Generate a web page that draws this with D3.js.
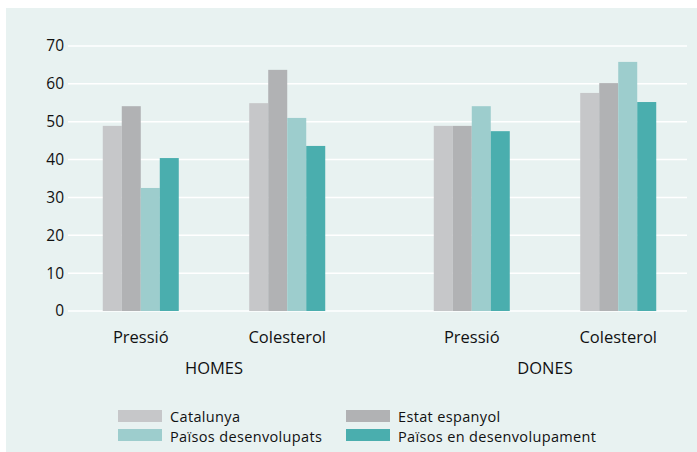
<!DOCTYPE html>
<meta charset="utf-8">
<style>
  body { margin: 0; background: #fff; }
  text { font-family: "Open Sans", sans-serif; fill: #111; }
</style>
<body>
<div id="chart"></div>
<script src="https://d3js.org/d3.v7.min.js"></script>
<script>
var sexes = ["HOMES", "DONES"];
var measures = ["Pressió", "Colesterol"];
var series = ["Catalunya", "Estat espanyol", "Països desenvolupats", "Països en desenvolupament"];
var colors = ["#c6c7c9", "#b1b2b4", "#9dcdcd", "#4aaeae"];
var yTicks = [0, 10, 20, 30, 40, 50, 60, 70];

// values per series, order: HOMES Pressió, HOMES Colesterol, DONES Pressió, DONES Colesterol
var catalunya = [48.9, 54.9, 48.9, 57.6];
var estat = [54.1, 63.7, 48.9, 60.2];
var paisosDes = [32.5, 51.0, 54.1, 65.8];
var paisosEnDes = [40.4, 43.6, 47.5, 55.2];
var values = [catalunya, estat, paisosDes, paisosEnDes];

var W = 697, H = 452;
var svg = d3.select("#chart").append("svg")
    .attr("width", W).attr("height", H);

// panel
svg.append("rect")
    .attr("x", 6).attr("y", 8)
    .attr("width", W - 6).attr("height", H - 8)
    .attr("fill", "#e8f2f1");

var y = d3.scaleLinear().domain([0, 70]).range([311, 46]);

// outer band per sex, inner points per measure
var x0 = d3.scaleBand().domain(sexes).range([48.5, 710.5]);
var x1 = d3.scalePoint().domain(measures).range([0, x0.bandwidth()]).padding(0.63);
var barW = 19;
var xs = d3.scaleBand().domain(series).range([-2 * barW, 2 * barW]);

// grid
svg.append("g").selectAll("line")
    .data(yTicks).enter().append("line")
    .attr("x1", 68).attr("x2", 687)
    .attr("y1", function (d) { return y(d); })
    .attr("y2", function (d) { return y(d); })
    .attr("stroke", "#ffffff").attr("stroke-width", 1.5);

// y axis labels
var yAxis = svg.append("g")
    .attr("transform", "translate(68,0)")
    .call(d3.axisLeft(y).tickValues(yTicks).tickSize(0).tickPadding(4));
yAxis.select(".domain").remove();
yAxis.selectAll("text")
    .style("font-family", "'Open Sans', sans-serif")
    .style("font-size", "15.5px")
    .attr("fill", "#111");

// bars
var cells = [];
sexes.forEach(function (s, si) {
    measures.forEach(function (m, mi) {
        series.forEach(function (ser, k) {
            cells.push({ sex: s, measure: m, series: ser, k: k, v: values[k][si * 2 + mi] });
        });
    });
});

function center(d) {
    return x0(d.sex) + x1(d.measure);
}

svg.append("g").selectAll("rect")
    .data(cells).enter().append("rect")
    .attr("x", function (d) { return center(d) + xs(d.series); })
    .attr("width", xs.bandwidth())
    .attr("y", function (d) { return y(d.v); })
    .attr("height", function (d) { return y(0) - y(d.v); })
    .attr("fill", function (d) { return colors[d.k]; });

// category labels
sexes.forEach(function (s) {
    measures.forEach(function (m) {
        svg.append("text")
            .attr("x", x0(s) + x1(m))
            .attr("y", 343)
            .attr("text-anchor", "middle")
            .style("font-size", "16.5px")
            .text(m);
    });
    svg.append("text")
        .attr("x", x0(s) + x0.bandwidth() / 2)
        .attr("y", 374)
        .attr("text-anchor", "middle")
        .style("font-size", "16.5px")
        .text(s);
});

// legend
var legend = svg.append("g").selectAll("g")
    .data(series).enter().append("g")
    .attr("transform", function (d, i) {
        return "translate(" + (i % 2 === 0 ? 118 : 346) + "," + (i < 2 ? 410 : 429) + ")";
    });
legend.append("rect")
    .attr("width", 44).attr("height", 12)
    .attr("fill", function (d, i) { return colors[i]; });
legend.append("text")
    .attr("x", 52)
    .attr("y", function (d, i) { return i < 2 ? 11.5 : 12.5; })
    .style("font-size", "14.5px")
    .style("letter-spacing", "0.35px")
    .text(function (d) { return d; });
</script>
</body>
